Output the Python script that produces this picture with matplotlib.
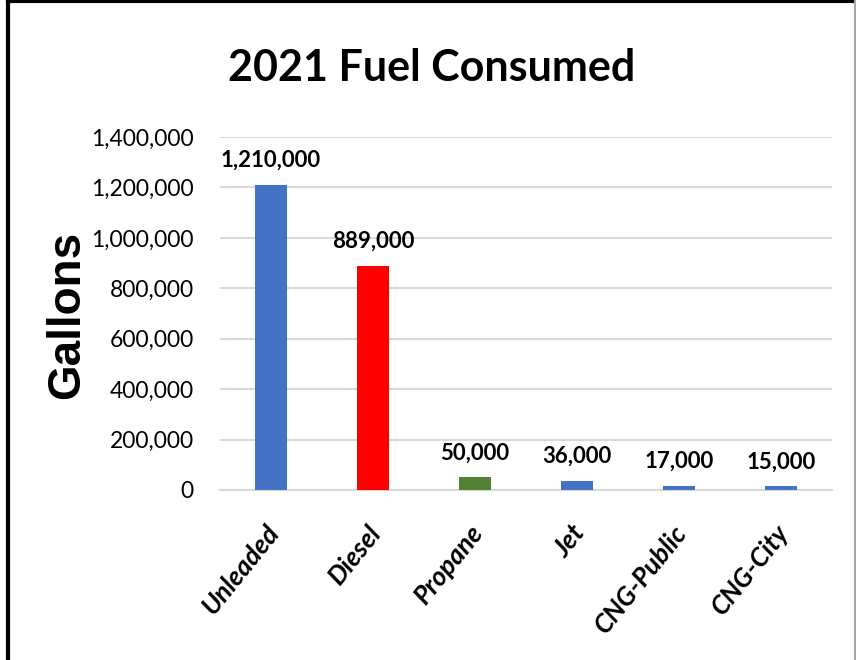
import matplotlib
matplotlib.use("Agg")
import matplotlib.pyplot as plt
import matplotlib.transforms as mtransforms
from matplotlib.lines import Line2D
from matplotlib.ticker import FuncFormatter, MultipleLocator

# data
fuels = ["Unleaded", "Diesel", "Propane", "Jet", "CNG-Public", "CNG-City"]
gallons = [1210000, 889000, 50000, 36000, 17000, 15000]
bar_colors = ["#4472C4", "#FF0000", "#548235", "#4472C4", "#4472C4", "#4472C4"]

narrow = ["Lato", "DejaVu Sans"]

fig = plt.figure(figsize=(8.56, 6.60), dpi=100)
ax = fig.add_axes([220 / 856, 1 - 490 / 660, 612 / 856, (490 - 137) / 660])

x = range(len(fuels))
ax.bar(x, gallons, width=0.31, color=bar_colors, zorder=3)

for i, v in enumerate(gallons):
    ax.annotate(f"{v:,}", (i, v), xytext=(0, 10), textcoords="offset points",
                ha="center", va="bottom", fontsize=16, fontweight="bold",
                family=narrow)

ax.set_xlim(-0.5, len(fuels) - 0.5)
ax.set_ylim(0, 1400000)
ax.yaxis.set_major_locator(MultipleLocator(200000))
ax.yaxis.set_major_formatter(FuncFormatter(lambda v, p: f"{int(v):,}"))
ax.grid(axis="y", color="#D9D9D9", linewidth=1.5, zorder=0)
for s in ["top", "right", "left"]:
    ax.spines[s].set_visible(False)
ax.spines["bottom"].set_color("#D9D9D9")
ax.spines["bottom"].set_linewidth(1.5)
ax.tick_params(axis="both", length=0)
ax.tick_params(axis="y", pad=19)

for lab in ax.get_yticklabels():
    lab.set_family(narrow)
    lab.set_fontsize(16.5)

ax.set_xticks(list(x))
ax.set_xticklabels(fuels, rotation=51, ha="right", rotation_mode="anchor",
                   fontsize=19, fontweight="bold", fontstyle="italic",
                   family=narrow)
ax.tick_params(axis="x", pad=22)
shift = mtransforms.ScaledTranslation(-6 / 100, 0, fig.dpi_scale_trans)
for lab in ax.get_xticklabels():
    lab.set_transform(lab.get_transform() + shift)

fig.text(432 / 856, 1 - 68 / 660, "2021 Fuel Consumed", ha="center", va="center",
         fontsize=31, fontweight="bold", family=narrow)
fig.text(67 / 856, 1 - 315 / 660, "Gallons", rotation=90, ha="center", va="center",
         fontsize=33, fontweight="bold", family=["Liberation Sans", "DejaVu Sans"])

# frame around the picture
fig.add_artist(Line2D([8 / 856, 8 / 856], [0, 1], color="black", lw=3))
fig.add_artist(Line2D([8 / 856, 1], [1 - 1 / 660, 1 - 1 / 660], color="black", lw=3))
fig.add_artist(Line2D([855 / 856, 855 / 856], [0, 1], color="#A6A6A6", lw=1.5))

fig.savefig("out.png", dpi=100)
